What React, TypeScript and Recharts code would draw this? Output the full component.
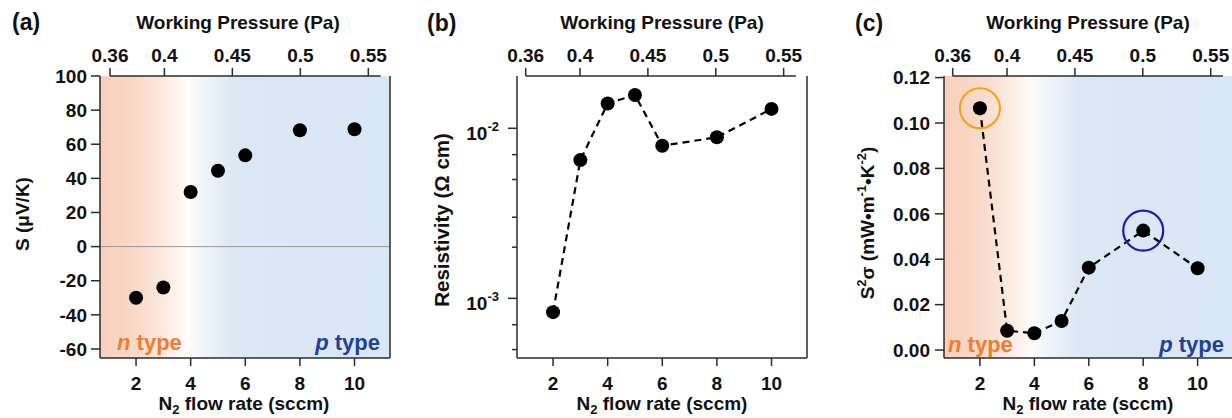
import React from 'react';
import {
    LineChart,
    Line,
    XAxis,
    YAxis,
    CartesianGrid,
    ReferenceLine,
    ReferenceDot
} from 'recharts';

// values
const flowRates = [2, 3, 4, 5, 6, 8, 10];
const pressures = [0.38, 0.4, 0.42, 0.44, 0.46, 0.5, 0.54];
const seebeck = [-30, -24, 32, 44.5, 53.5, 68.2, 68.8];
const resistivity = [0.00083, 0.0065, 0.014, 0.0157, 0.0079, 0.00885, 0.013];
const powerFactor = [0.1065, 0.0085, 0.0074, 0.0128, 0.0363, 0.0526, 0.036];

// tick labels
const flowTicks = [2, 4, 6, 8, 10];
const pressureTicks = [0.36, 0.4, 0.45, 0.5, 0.55];
const seebeckTicks = [-60, -40, -20, 0, 20, 40, 60, 80, 100];
const resistivityTicks = [
    0.0005, 0.0006, 0.0007, 0.0008, 0.0009, 0.001,
    0.002, 0.003, 0.004, 0.005, 0.006, 0.007, 0.008, 0.009, 0.01
];
const powerFactorTicks = [0, 0.02, 0.04, 0.06, 0.08, 0.1, 0.12];

const seebeckData = flowRates.map((flow, i) => ({ flow, pressure: pressures[i], value: seebeck[i] }));
const resistivityData = flowRates.map((flow, i) => ({ flow, pressure: pressures[i], value: resistivity[i] }));
const powerFactorData = flowRates.map((flow, i) => ({ flow, pressure: pressures[i], value: powerFactor[i] }));

const FONT = '"Liberation Sans", Arial, Helvetica, sans-serif';
const AXIS = '#2b2b2b';
const TEXT = '#111';
const FLOW_DOMAIN: [number, number] = [0.68, 11.3];
const PRESSURE_END = 0.559;

const tickStyle = { fontSize: 19, fontWeight: 'bold', fill: TEXT, fontFamily: FONT };
const dotStyle = { r: 7, fill: '#000', stroke: '#000', strokeWidth: 0 };

const LogTick = (props: any) => {
    const { x, y, payload } = props;
    const lg = Math.log10(payload.value);
    const exp = Math.round(lg);
    const major = Math.abs(lg - exp) < 1e-6;
    const len = major ? 9 : 5;
    return (
        <g>
            <line x1={x - len} y1={y} x2={x} y2={y} stroke={AXIS} strokeWidth={1.5} />
            {major && (
                <text x={x - 18} y={y + 12} textAnchor="end" fontFamily={FONT} fontWeight="bold" fontSize={19} fill={TEXT}>
                    10<tspan dy={-9} fontSize={13}>{exp}</tspan>
                </text>
            )}
        </g>
    );
};

const BgGradient = ({ id }: { id: string }) => (
    <defs>
        <linearGradient id={id} x1="0" y1="0" x2="1" y2="0">
            <stop offset="0%" stopColor="#f7d0bb" />
            <stop offset="12%" stopColor="#f9d9c8" />
            <stop offset="21%" stopColor="#fce8dd" />
            <stop offset="30%" stopColor="#fffbf8" />
            <stop offset="35%" stopColor="#f1f6fb" />
            <stop offset="46%" stopColor="#dde8f5" />
            <stop offset="100%" stopColor="#d9e6f5" />
        </linearGradient>
    </defs>
);

const bottomAxis = (
    <XAxis
        dataKey="flow"
        type="number"
        domain={FLOW_DOMAIN}
        ticks={flowTicks}
        allowDataOverflow
        height={60}
        stroke={AXIS}
        strokeWidth={1.5}
        tickSize={8}
        tickMargin={11}
        tick={tickStyle}
    />
);

const topAxis = (domain: [number, number]) => (
    <XAxis
        xAxisId="top"
        dataKey="pressure"
        orientation="top"
        type="number"
        domain={domain}
        ticks={pressureTicks}
        allowDataOverflow
        height={76}
        stroke={AXIS}
        strokeWidth={1.5}
        axisLine={false}
        tickSize={8}
        tickMargin={6}
        tick={tickStyle}
        tickFormatter={(v: number) => String(v)}
    />
);

// invisible series so the pressure axis has something to scale
const pressureSeries = (
    <Line xAxisId="top" dataKey="value" stroke="none" dot={false} activeDot={false} isAnimationActive={false} />
);

export default function App() {
    return (
        <div style={{ position: 'absolute', left: 0, top: 0, width: 1232, height: 418, overflow: 'hidden', background: '#fff' }}>
            {/* (a) Seebeck coefficient */}
            <div style={{ position: 'absolute', left: 0, top: 0 }}>
                <LineChart width={410} height={418} data={seebeckData} margin={{ top: 0, right: 20, bottom: 0, left: 0 }}>
                    <BgGradient id="bgA" />
                    <CartesianGrid fill="url(#bgA)" horizontal={false} vertical={false} stroke="none" />
                    {bottomAxis}
                    {topAxis([0.35264, 0.56595])}
                    <YAxis
                        type="number"
                        domain={[-65.3, 100]}
                        ticks={seebeckTicks}
                        allowDataOverflow
                        width={100}
                        stroke={AXIS}
                        strokeWidth={1.5}
                        tickSize={9}
                        tickMargin={4}
                        tick={tickStyle}
                    />
                    <ReferenceLine y={0} stroke="#9a9a9a" strokeWidth={1} />
                    <ReferenceLine x={FLOW_DOMAIN[1]} stroke={AXIS} strokeWidth={1.5} ifOverflow="visible" />
                    <ReferenceLine
                        xAxisId="top"
                        segment={[{ x: pressureTicks[0], y: 100 }, { x: PRESSURE_END, y: 100 }]}
                        stroke={AXIS}
                        strokeWidth={1.5}
                        ifOverflow="visible"
                    />
                    {pressureSeries}
                    <Line dataKey="value" stroke="none" dot={dotStyle} activeDot={false} isAnimationActive={false} />
                </LineChart>
            </div>

            {/* (b) Resistivity */}
            <div style={{ position: 'absolute', left: 410, top: 0 }}>
                <LineChart width={410} height={418} data={resistivityData} margin={{ top: 0, right: 13, bottom: 0, left: 0 }}>
                    {bottomAxis}
                    {topAxis([0.3536, 0.5672])}
                    <YAxis
                        type="number"
                        scale="log"
                        domain={[0.000446, 0.0203]}
                        ticks={resistivityTicks}
                        allowDataOverflow
                        width={107}
                        stroke={AXIS}
                        strokeWidth={1.5}
                        tickLine={false}
                        tickSize={0}
                        tickMargin={0}
                        tick={<LogTick />}
                    />
                    <ReferenceLine x={FLOW_DOMAIN[1]} stroke={AXIS} strokeWidth={1.5} ifOverflow="visible" />
                    <ReferenceLine
                        xAxisId="top"
                        segment={[{ x: pressureTicks[0], y: 0.0203 }, { x: PRESSURE_END, y: 0.0203 }]}
                        stroke={AXIS}
                        strokeWidth={1.5}
                        ifOverflow="visible"
                    />
                    {pressureSeries}
                    <Line
                        dataKey="value"
                        stroke="#000"
                        strokeWidth={2.2}
                        strokeDasharray="7 5"
                        dot={dotStyle}
                        activeDot={false}
                        isAnimationActive={false}
                    />
                </LineChart>
            </div>

            {/* (c) Power factor */}
            <div style={{ position: 'absolute', left: 820, top: 0 }}>
                <LineChart width={414} height={418} data={powerFactorData} margin={{ top: 0, right: 1, bottom: 0, left: 0 }}>
                    <BgGradient id="bgC" />
                    <CartesianGrid fill="url(#bgC)" horizontal={false} vertical={false} stroke="none" />
                    {bottomAxis}
                    {topAxis([0.3536, 0.5664])}
                    <YAxis
                        type="number"
                        domain={[-0.0035, 0.1207]}
                        ticks={powerFactorTicks}
                        allowDataOverflow
                        width={124}
                        stroke={AXIS}
                        strokeWidth={1.5}
                        tickSize={9}
                        tickMargin={5}
                        tick={tickStyle}
                        tickFormatter={(v: number) => v.toFixed(2)}
                    />
                    <ReferenceLine
                        xAxisId="top"
                        segment={[{ x: pressureTicks[0], y: 0.1207 }, { x: PRESSURE_END, y: 0.1207 }]}
                        stroke={AXIS}
                        strokeWidth={1.5}
                        ifOverflow="visible"
                    />
                    {pressureSeries}
                    <Line
                        dataKey="value"
                        stroke="#000"
                        strokeWidth={2.2}
                        strokeDasharray="7 5"
                        dot={dotStyle}
                        activeDot={false}
                        isAnimationActive={false}
                    />
                    <ReferenceDot x={flowRates[0]} y={powerFactor[0]} r={20} fill="none" stroke="#f2a51e" strokeWidth={2.2} />
                    <ReferenceDot x={flowRates[5]} y={powerFactor[5]} r={20} fill="none" stroke="#1c1cb0" strokeWidth={2.2} />
                </LineChart>
            </div>

            {/* titles and annotations */}
            <svg width={1232} height={418} style={{ position: 'absolute', left: 0, top: 0, pointerEvents: 'none' }} fontFamily={FONT} fontWeight="bold" fill={TEXT}>
                <text x={12} y={30} fontSize={23}>(a)</text>
                <text x={427} y={31} fontSize={23}>(b)</text>
                <text x={855} y={31} fontSize={23}>(c)</text>

                <text x={238} y={28.5} fontSize={19} textAnchor="middle">Working Pressure (Pa)</text>
                <text x={662} y={28.5} fontSize={19} textAnchor="middle">Working Pressure (Pa)</text>
                <text x={1088} y={28.5} fontSize={19} textAnchor="middle">Working Pressure (Pa)</text>

                {[244, 662, 1088].map((cx) => (
                    <text key={cx} x={cx} y={410} fontSize={19} textAnchor="middle">
                        N<tspan dy={4} fontSize={13}>2</tspan><tspan dy={-4}> flow rate (sccm)</tspan>
                    </text>
                ))}

                <text transform="translate(29,214) rotate(-90)" fontSize={19} textAnchor="middle">S (μV/K)</text>
                <text transform="translate(449,220) rotate(-90)" fontSize={20.5} textAnchor="middle">Resistivity (Ω cm)</text>
                <text transform="translate(874,223) rotate(-90)" fontSize={19} textAnchor="middle">
                    S<tspan dy={-8} fontSize={13}>2</tspan><tspan dy={8}>σ (mW•m</tspan><tspan dy={-8} fontSize={13}>-1</tspan><tspan dy={8}>•K</tspan><tspan dy={-8} fontSize={13}>-2</tspan><tspan dy={8}>)</tspan>
                </text>

                <text x={117} y={350} fontSize={22} fill="#ee7d31"><tspan fontStyle="italic">n</tspan> type</text>
                <text x={380} y={350} fontSize={22} fill="#223f97" textAnchor="end"><tspan fontStyle="italic">p</tspan> type</text>
                <text x={948} y={352} fontSize={22} fill="#ee7d31"><tspan fontStyle="italic">n</tspan> type</text>
                <text x={1224} y={352} fontSize={22} fill="#223f97" textAnchor="end"><tspan fontStyle="italic">p</tspan> type</text>
            </svg>
        </div>
    );
}
